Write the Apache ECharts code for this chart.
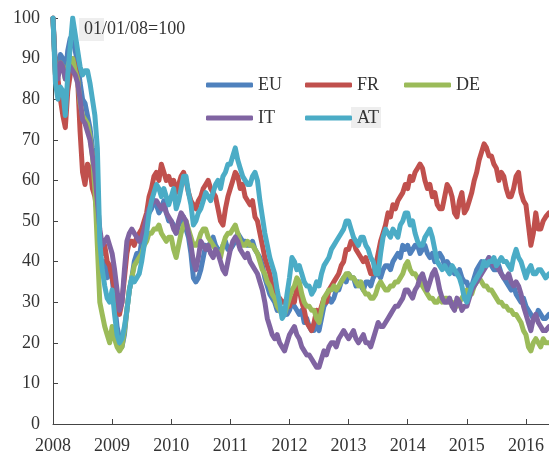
<!DOCTYPE html>
<html>
<head>
<meta charset="utf-8">
<script src="https://cdn.jsdelivr.net/npm/echarts@6/dist/echarts.min.js"></script>
<style>
  html, body { margin: 0; padding: 0; background: #fff; }
  #chart { width: 549px; height: 457px; }
</style>
</head>
<body>
<div id="chart"></div>
<script>
// readings twice a month, Jan 2008 .. May 2016 (index 0 = 01/01/08 = 100)
const seriesNames = ['EU', 'FR', 'DE', 'IT', 'AT'];
const colors = ['#4F81BD', '#C0504D', '#9BBB59', '#8064A2', '#4BACC6'];

const eu = [
  100, 88, 87, 91, 90, 86, 92, 95, 95, 92, 89, 84, 80, 79, 76, 73, 68, 64, 55, 43, 38, 40, 36, 39,
  36, 30, 24, 21, 19, 22, 28, 33, 36, 40, 42, 41, 45, 48, 50, 52, 53, 55, 54, 52, 53, 55, 52, 50,
  50, 49, 47, 49, 50, 51, 48, 46, 42, 36, 35, 36, 38, 41, 44, 43, 45, 46, 44, 43, 42, 44, 45, 43,
  43, 44, 45, 47, 46, 45, 45, 44, 44, 45, 43, 42, 41, 39, 36, 34, 32, 31, 30, 28, 29, 28, 28, 27,
  28, 30, 29, 28, 27, 28, 25, 26, 24, 23, 23, 25, 23, 26, 29, 30, 31, 30, 31, 33, 33, 35, 36, 35,
  37, 36, 36, 34, 35, 34, 33, 35, 35, 34, 36, 37, 37, 36, 38, 39, 39, 38, 40, 41, 42, 41, 44, 43,
  44, 42, 43, 44, 44, 42, 43, 44, 42, 41, 42, 40, 41, 42, 41, 39, 40, 39, 38, 37, 37, 38, 36, 35,
  35, 33, 34, 36, 38, 39, 40, 39, 40, 41, 39, 38, 38, 39, 37, 36, 35, 34, 33, 34, 32, 31, 30, 31,
  29, 28, 27, 26, 26, 28, 27, 26, 26, 27
];
const fr = [
  100, 86, 85, 80, 76, 73, 82, 86, 90, 88, 85, 72, 62, 59, 64, 63, 58, 56, 52, 46, 42, 44, 40, 39,
  36, 33, 30, 27, 30, 36, 42, 45, 45, 44, 46, 47, 48, 50, 52, 56, 58, 61, 62, 60, 64, 62, 60, 61,
  59, 60, 57, 59, 61, 62, 60, 57, 55, 54, 53, 55, 56, 58, 59, 60, 58, 57, 56, 53, 50, 49, 53, 56,
  58, 60, 62, 61, 58, 59, 56, 55, 54, 55, 51, 50, 47, 44, 41, 39, 37, 34, 32, 31, 31, 30, 30, 31,
  29, 31, 30, 34, 33, 30, 28, 25, 24, 23, 25, 28, 27, 29, 31, 30, 33, 34, 35, 36, 37, 39, 40, 43,
  43, 45, 45, 43, 42, 41, 40, 41, 39, 37, 37, 39, 42, 45, 47, 49, 52, 51, 54, 53, 55, 56, 57, 59,
  58, 61, 60, 62, 63, 64, 63, 60, 58, 59, 56, 57, 54, 53, 53, 56, 59, 58, 56, 52, 51, 55, 57, 52,
  53, 55, 57, 60, 62, 65, 67, 69, 68, 66, 66, 64, 63, 60, 62, 61, 58, 56, 56, 58, 61, 62, 57, 55,
  54, 49, 44, 47, 52, 48, 48, 50, 51, 52
];
const de = [
  100, 86, 86, 89, 88, 85, 88, 90, 90, 87, 85, 79, 76, 75, 74, 71, 66, 58, 44, 30, 27, 24, 22, 20,
  24, 21, 19, 18, 19, 23, 28, 33, 36, 39, 40, 41, 42, 44, 45, 47, 47, 48, 48, 49, 47, 46, 45, 46,
  46, 43, 41, 44, 47, 49, 50, 48, 46, 44, 44, 45, 47, 48, 48, 46, 45, 44, 43, 42, 41, 44, 46, 47,
  47, 48, 49, 47, 45, 44, 44, 45, 44, 44, 43, 42, 40, 38, 37, 35, 34, 32, 31, 29, 28, 27, 27, 29,
  31, 33, 34, 36, 35, 32, 30, 29, 29, 28, 28, 26, 25, 28, 31, 32, 33, 33, 34, 33, 34, 35, 36, 37,
  37, 36, 36, 35, 34, 35, 33, 32, 32, 31, 31, 32, 34, 35, 34, 33, 33, 34, 34, 35, 35, 36, 37, 39,
  40, 38, 37, 37, 36, 35, 34, 33, 32, 31, 31, 30, 30, 31, 30, 31, 31, 30, 30, 29, 29, 30, 31, 32,
  33, 32, 32, 34, 35, 36, 35, 34, 34, 33, 33, 32, 31, 30, 30, 29, 29, 28, 28, 27, 27, 26, 25, 23,
  22, 19, 18, 20, 21, 20, 19, 21, 20, 20
];
const it = [
  100, 86, 85, 89, 88, 85, 87, 88, 87, 86, 84, 80, 75, 74, 72, 70, 66, 62, 55, 48, 44, 45, 46, 44,
  42, 38, 33, 28, 30, 38, 45, 47, 48, 47, 46, 45, 46, 48, 51, 53, 54, 55, 55, 54, 53, 54, 52, 51,
  50, 48, 47, 50, 52, 51, 50, 47, 44, 40, 38, 41, 45, 44, 43, 44, 42, 41, 43, 42, 40, 38, 37, 40,
  43, 45, 46, 45, 43, 42, 41, 42, 40, 39, 38, 37, 35, 33, 30, 26, 24, 22, 21, 22, 20, 19, 18, 20,
  22, 23, 24, 22, 21, 19, 18, 17, 17, 16, 15, 14, 14, 16, 18, 17, 19, 20, 20, 19, 21, 22, 23, 22,
  21, 22, 23, 21, 20, 21, 22, 20, 20, 19, 21, 23, 25, 24, 24, 25, 26, 27, 28, 29, 29, 30, 31, 33,
  33, 32, 31, 33, 34, 36, 37, 35, 33, 35, 37, 38, 36, 33, 31, 30, 30, 31, 29, 28, 31, 30, 28, 29,
  29, 31, 33, 34, 35, 36, 37, 38, 39, 41, 40, 39, 39, 38, 37, 36, 36, 37, 35, 34, 35, 34, 32, 29,
  27, 25, 23, 26, 27, 25, 24, 23, 23, 24
];
const at = [
  100, 84, 80, 83, 82, 76, 86, 93, 100, 96, 92, 88, 86, 87, 87, 84, 80, 76, 68, 45, 38, 34, 31, 30,
  33, 27, 22, 20, 21, 24, 28, 33, 36, 35, 36, 37, 40, 44, 47, 52, 55, 57, 59, 58, 56, 58, 56, 54,
  56, 58, 53, 55, 58, 61, 61, 57, 54, 49, 50, 52, 53, 55, 57, 56, 55, 57, 59, 60, 58, 61, 62, 64,
  64, 66, 68, 65, 63, 61, 60, 59, 59, 61, 62, 60, 55, 51, 47, 44, 41, 39, 37, 33, 30, 26, 27, 32,
  36, 41, 40, 38, 39, 37, 35, 34, 34, 32, 33, 35, 34, 37, 39, 40, 41, 43, 44, 45, 46, 47, 48, 50,
  50, 48, 46, 45, 44, 46, 46, 44, 43, 41, 40, 37, 37, 42, 46, 48, 47, 46, 48, 47, 46, 49, 50, 52,
  52, 49, 50, 47, 45, 44, 44, 46, 47, 48, 46, 43, 40, 39, 38, 39, 38, 37, 39, 38, 37, 36, 34, 31,
  30, 32, 34, 35, 36, 37, 38, 40, 39, 40, 40, 41, 39, 40, 41, 40, 40, 39, 38, 41, 43, 41, 40, 38,
  36, 38, 39, 37, 37, 38, 38, 37, 36, 37
];

// decimal-year positions of the readings (every half month, then the last day shown)
const dates = [];
for (let i = 0; i <= 200; i++) dates.push(2008 + i / 24);
dates.push(2016.39);

const allValues = [eu, fr, de, it, at];
const font = 'Liberation Serif';

const chart = echarts.init(document.getElementById('chart'));
const option = {
  animation: false,
  grid: { left: 53, right: 0, top: 18, bottom: 33 },
  xAxis: {
    type: 'value',
    min: 2008,
    max: 2016.39,
    interval: 1,
    axisLine: { lineStyle: { color: '#444', width: 1 } },
    axisTick: { inside: true, length: 5, lineStyle: { color: '#444' } },
    axisLabel: {
      showMaxLabel: false,
      color: '#333', fontFamily: font, fontSize: 18, margin: 13,
      formatter: v => (Number.isInteger(v) ? String(v) : '')
    },
    splitLine: { show: false }
  },
  yAxis: {
    type: 'value',
    min: 0,
    max: 100,
    interval: 10,
    axisLine: { show: true, lineStyle: { color: '#444', width: 1 } },
    axisTick: { show: true, inside: true, length: 5, lineStyle: { color: '#444' } },
    axisLabel: { color: '#333', fontFamily: font, fontSize: 18, margin: 13 },
    splitLine: { show: false }
  },
  legend: {
    left: 206,
    top: 74,
    padding: 0,
    width: 300,
    itemWidth: 47,
    itemHeight: 5,
    itemGap: 11,
    icon: 'roundRect',
    textStyle: { color: '#333', fontFamily: font, fontSize: 18, width: 36, lineHeight: 22 },
    data: seriesNames
  },
  graphic: [
    { type: 'rect', z: 0, shape: { x: 79, y: 18, width: 25, height: 23 }, style: { fill: '#eeeeee' } },
    { type: 'text', z: 1, left: 84, top: 20, style: { text: '01/01/08=100', font: '18px "Liberation Serif"', fill: '#333' } },
    { type: 'rect', z: 0, shape: { x: 351, y: 107, width: 30, height: 21 }, style: { fill: '#eeeeee' } }
  ],
  series: seriesNames.map((name, k) => ({
    name,
    type: 'line',
    showSymbol: false,
    symbol: 'none',
    lineStyle: { width: 5, color: colors[k], join: 'round', cap: 'round' },
    itemStyle: { color: colors[k] },
    data: dates.map((d, i) => [d, allValues[k][i]])
  }))
};
chart.setOption(option);
</script>
</body>
</html>
